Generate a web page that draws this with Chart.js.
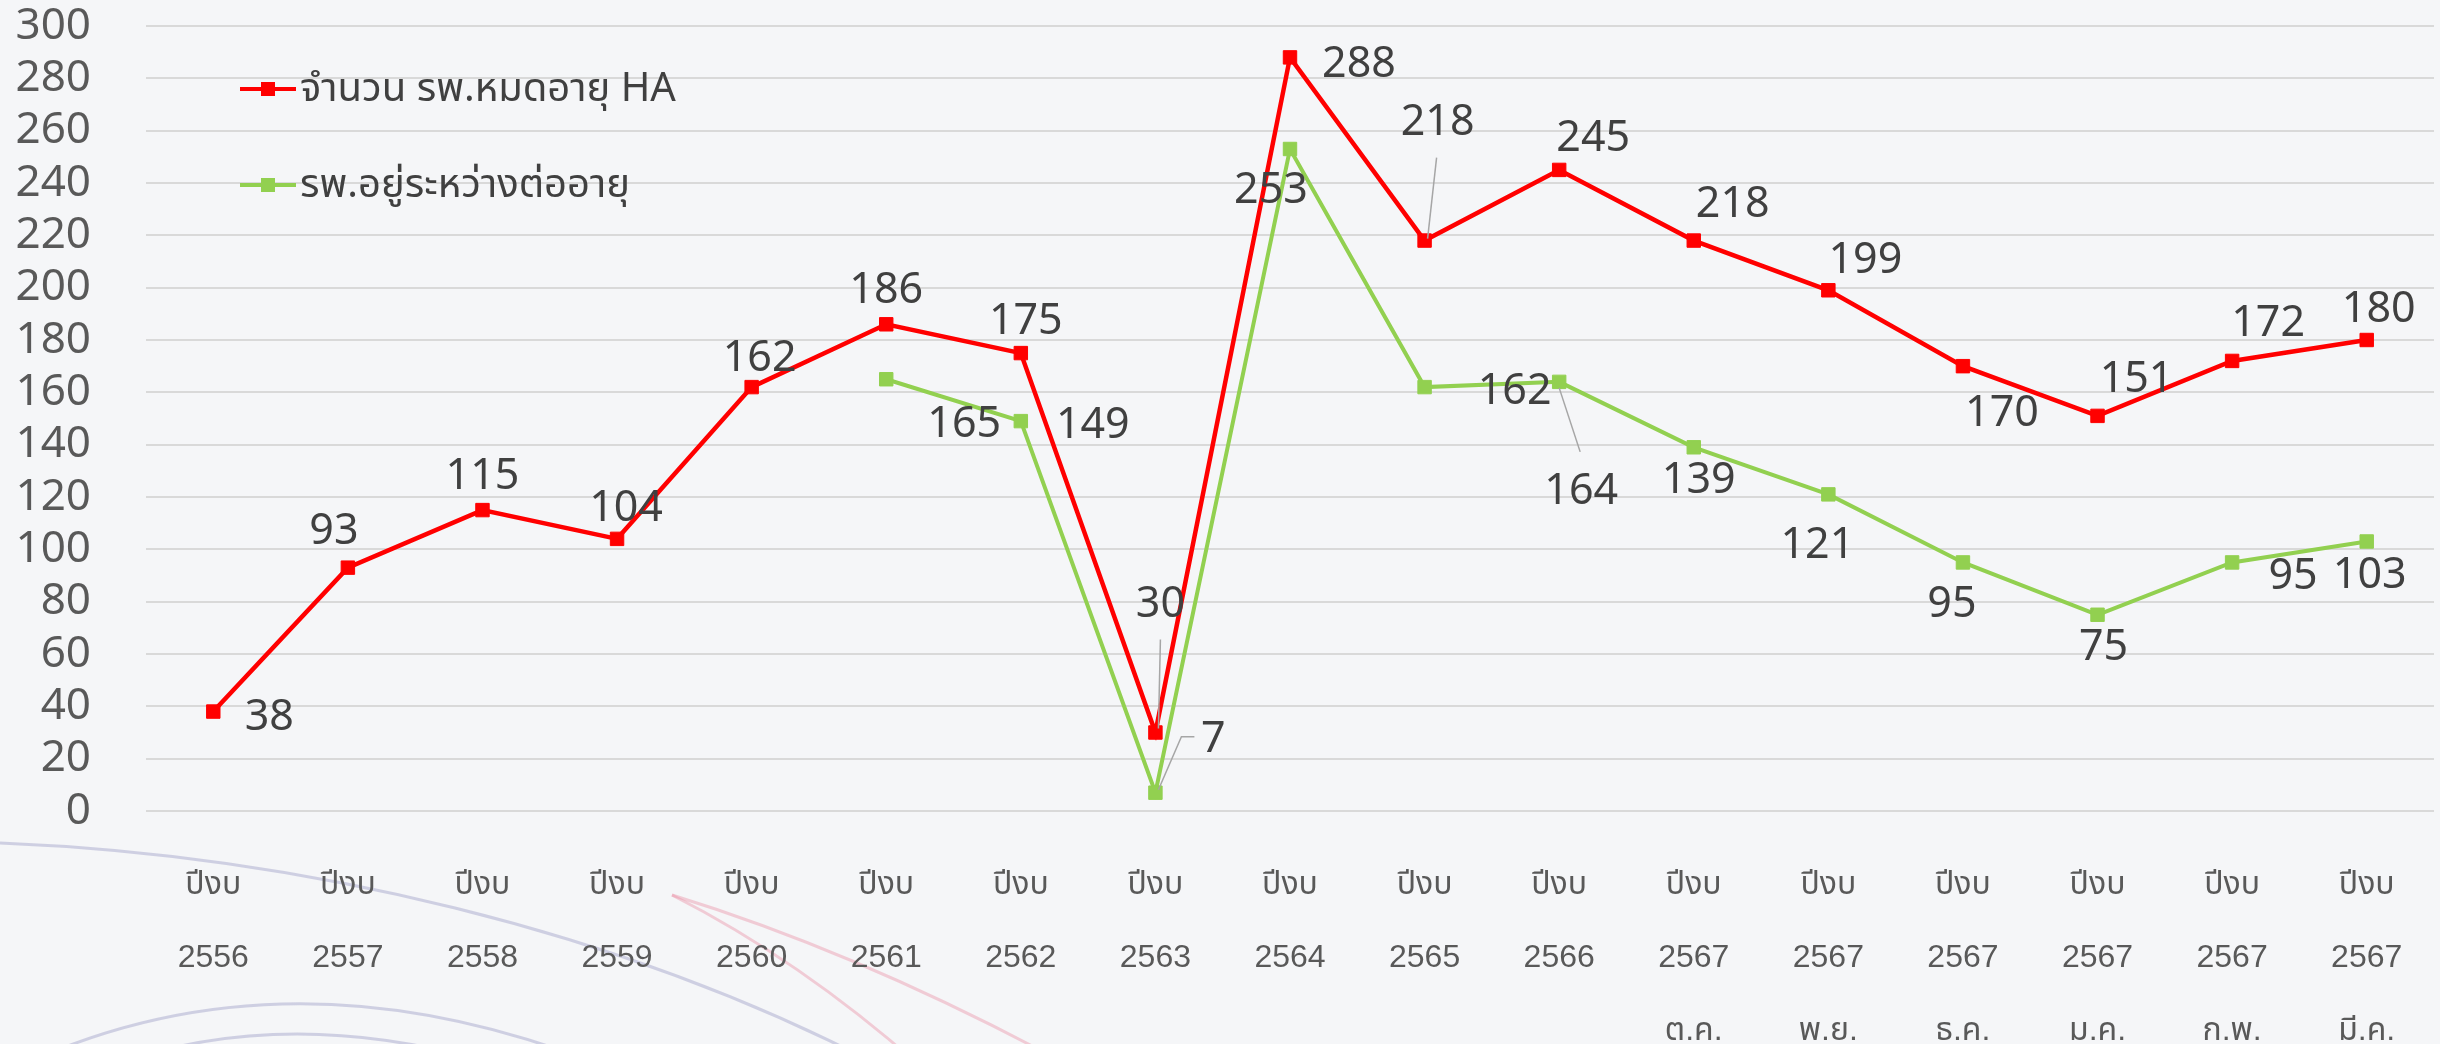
<!DOCTYPE html>
<html><head><meta charset="utf-8">
<script src="https://cdn.jsdelivr.net/npm/chart.js@4.4.1/dist/chart.umd.min.js"></script>
<style>
html,body{margin:0;padding:0;background:#f5f6f8;overflow:hidden;width:2440px;height:1044px;}
#wrap{width:2440px;height:1066px;position:relative;}
canvas{display:block;}
</style></head><body>
<div id="wrap"><canvas id="c" width="2440" height="1066"></canvas></div>
<script>
// ---- data ----
const fiscalPrefix = "ปีงบ";
const fiscalYears = ["2556","2557","2558","2559","2560","2561","2562","2563","2564","2565","2566","2567","2567","2567","2567","2567","2567"];
const monthTags = ["","","","","","","","","","","","ต.ค.","พ.ย.","ธ.ค.","ม.ค.","ก.พ.","มี.ค."];
const seriesNames = ["จำนวน รพ.หมดอายุ HA","รพ.อยู่ระหว่างต่ออายุ"];
const expiredHA = [38,93,115,104,162,186,175,30,288,218,245,218,199,170,151,172,180];
const renewing  = [null,null,null,null,null,165,149,7,253,162,164,139,121,95,75,95,103];
const yTicks = [0,20,40,60,80,100,120,140,160,180,200,220,240,260,280,300];

// ---- label placement (styling) ----
const redOffsets = [[56,6],[-14,-36],[0,-33],[9,-30],[8,-28],[0,-34],[5,-31],[5,-128],[69,7],[13,-118],[34,-31],[39,-36],[37,-30],[39,48],[39,-36],[36,-37],[12,-30]];
const greenOffsets = [null,null,null,null,null,[78,45],[72,5],[58,-53],[-19,42],[90,5],[22,110],[5,33],[-11,51],[-11,42],[6,33],[61,14],[3,34]];
const redLeaders = {7:[5,-93,3,-4], 9:[12,-83,3,-2]};
const greenLeaders = {7:[3,-3,26,-56,39,-56], 10:[0,6,21,70]};

const labels = fiscalYears.map((y,i)=> monthTags[i] ? [fiscalPrefix,y,monthTags[i]] : [fiscalPrefix,y]);

const FONT = '"Noto Sans","Noto Sans Thai","Open Sans",sans-serif';

const bgPlugin = {
  id:'bgDecor',
  beforeDraw(chart){
    const ctx = chart.ctx;
    ctx.save();
    ctx.fillStyle = '#f5f6f8';
    ctx.fillRect(0,0,chart.width,chart.height);
    ctx.lineWidth = 3;
    ctx.strokeStyle = 'rgba(160,160,200,0.45)';
    ctx.beginPath(); ctx.moveTo(0,843); ctx.bezierCurveTo(300,855,620,930,880,1066); ctx.stroke();
    ctx.beginPath(); ctx.moveTo(20,1066); ctx.quadraticCurveTo(270,950,560,1050); ctx.stroke();
    ctx.beginPath(); ctx.moveTo(110,1066); ctx.quadraticCurveTo(280,1005,480,1060); ctx.stroke();
    ctx.strokeStyle = 'rgba(235,150,170,0.45)';
    ctx.beginPath(); ctx.moveTo(672,895); ctx.quadraticCurveTo(800,960,920,1066); ctx.stroke();
    ctx.beginPath(); ctx.moveTo(672,895); ctx.quadraticCurveTo(850,950,1040,1050); ctx.stroke();
    ctx.restore();
  }
};

const valuePlugin = {
  id:'valueLabels',
  afterDatasetsDraw(chart){
    const ctx = chart.ctx;
    const offsets = [redOffsets, greenOffsets];
    const leaders = [redLeaders, greenLeaders];
    ctx.save();
    chart.data.datasets.forEach((ds,di)=>{
      const meta = chart.getDatasetMeta(di);
      meta.data.forEach((pt,i)=>{
        const v = ds.data[i];
        if (v === null || v === undefined) return;
        const ld = leaders[di][i];
        if (ld){
          ctx.strokeStyle = '#a6a6a6'; ctx.lineWidth = 1.5;
          ctx.beginPath(); ctx.moveTo(pt.x+ld[0], pt.y+ld[1]);
          for (let k=2;k<ld.length;k+=2) ctx.lineTo(pt.x+ld[k], pt.y+ld[k+1]);
          ctx.stroke();
        }
        const o = offsets[di][i];
        ctx.fillStyle = '#404040';
        ctx.font = '43px ' + FONT;
        ctx.textAlign = 'center'; ctx.textBaseline = 'middle';
        ctx.fillText(String(v), pt.x+o[0], pt.y+o[1]);
      });
    });
    ctx.restore();
  }
};

const legendPlugin = {
  id:'innerLegend',
  afterDraw(chart){
    const ctx = chart.ctx;
    const rows = [89, 185];
    ctx.save();
    chart.data.datasets.forEach((ds,di)=>{
      const y = rows[di];
      ctx.strokeStyle = ds.borderColor; ctx.lineWidth = 4;
      ctx.beginPath(); ctx.moveTo(240,y); ctx.lineTo(296,y); ctx.stroke();
      ctx.fillStyle = ds.borderColor;
      ctx.fillRect(261,y-7,14,14);
      ctx.fillStyle = '#404040';
      ctx.font = '40px ' + FONT;
      ctx.textAlign = 'left'; ctx.textBaseline = 'middle';
      ctx.fillText(ds.label, 300, y+1);
    });
    ctx.restore();
  }
};

new Chart(document.getElementById('c'), {
  type:'line',
  data:{
    labels: labels,
    datasets:[
      {label: seriesNames[0], data: expiredHA, borderColor:'#ff0000', backgroundColor:'#ff0000',
       borderWidth:4.5, pointStyle:'rect', pointRadius:9.5, pointBorderWidth:1, tension:0},
      {label: seriesNames[1], data: renewing, borderColor:'#92d050', backgroundColor:'#92d050',
       borderWidth:4, pointStyle:'rect', pointRadius:9.5, pointBorderWidth:1, tension:0, spanGaps:false}
    ]
  },
  options:{
    responsive:false, animation:false, devicePixelRatio:1,
    layout:{padding:{top:7,left:15,right:6,bottom:0}, autoPadding:false},
    plugins:{legend:{display:false}, tooltip:{enabled:false}},
    scales:{
      x:{
        offset:true,
        grid:{display:false},
        border:{display:false},
        afterFit(scale){ scale.height = 255; scale.paddingLeft = 0; scale.paddingRight = 0; },
        ticks:{color:'#595959', padding:30, maxRotation:0, autoSkip:false,
               font:{family:'"Liberation Sans","Noto Sans","Noto Sans Thai",sans-serif', size:32, lineHeight:2.28}}
      },
      y:{
        min:0, max:300,
        afterBuildTicks(axis){ axis.ticks = yTicks.map(v=>({value:v})); },
        afterFit(scale){ scale.width = 131; scale.paddingTop = 26; scale.paddingBottom = 0; },
        grid:{color:'#d9d9d9', lineWidth:2, drawTicks:false},
        border:{display:false},
        ticks:{color:'#595959', padding:55, autoSkip:false, font:{family:FONT, size:44}}
      }
    }
  },
  plugins:[bgPlugin, valuePlugin, legendPlugin]
});
</script>
</body></html>
